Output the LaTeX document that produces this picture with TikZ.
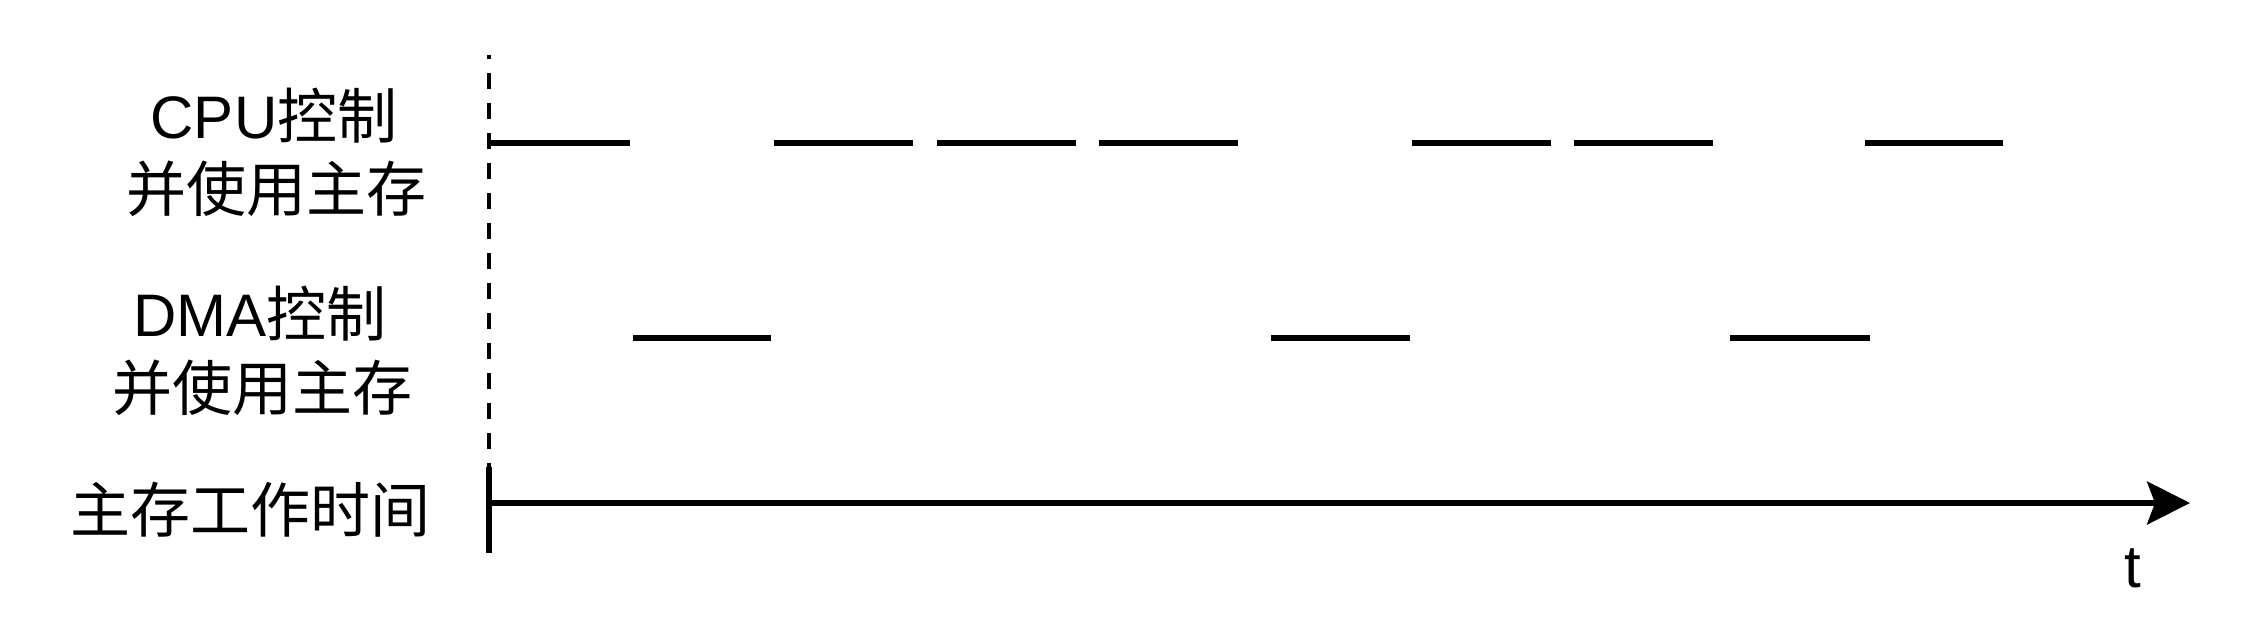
\documentclass[tikz,border=0pt]{standalone}
\usepackage{fontspec}
\setmainfont{Liberation Sans}
\newfontfamily\cjk{Noto Sans CJK SC}
\usetikzlibrary{arrows.meta}
\begin{document}
\begin{tikzpicture}[x=0.25pt,y=-0.25pt,
  lbl/.style={inner sep=0pt,anchor=base,font=\fontsize{15}{18}\selectfont},
  busy/.style={line width=1.3pt},
  axisline/.style={line width=1.3pt},
  startline/.style={line width=1.1pt}]
\useasboundingbox (0,0) rectangle (2244,622);
% labels
\node[lbl] (cpu1) at (274,138) {CPU{\cjk 控制}};
\node[lbl] (cpu2) at (276,211) {\cjk 并使用主存};
\node[lbl] (dma1) at (260,336) {DMA{\cjk 控制}};
\node[lbl] (dma2) at (262,410) {\cjk 并使用主存};
\node[lbl] (mem) at (250,532) {\cjk 主存工作时间};
\node[lbl] (t) at (2133,587) {t};
% start line
\coordinate (s0) at (489,55);
\coordinate (s1) at (489,467);
\coordinate (s2) at (489,553);
\draw[startline,dash pattern=on 4pt off 3.5pt,dash phase=3pt] (s0) -- (s1);
\draw[axisline] (s1) -- (s2);
% time axis
\coordinate (a0) at (489,503);
\coordinate (a1) at (2190,503);
\draw[axisline,-{Stealth[length=10.75pt,width=10.75pt,inset=2pt]}] (a0) -- (a1);
% CPU segments
\foreach \a/\b [count=\i] in {491/630,774/913,937/1076,1099/1238,1412/1551,1574/1713,1865/2003}{
  \coordinate (c\i a) at (\a,143);
  \coordinate (c\i b) at (\b,143);
  \draw[busy] (c\i a) -- (c\i b);
}
% DMA segments
\foreach \a/\b [count=\i] in {633/771,1271/1410,1730/1870}{
  \coordinate (d\i a) at (\a,338);
  \coordinate (d\i b) at (\b,338);
  \draw[busy] (d\i a) -- (d\i b);
}
\end{tikzpicture}
\end{document}
